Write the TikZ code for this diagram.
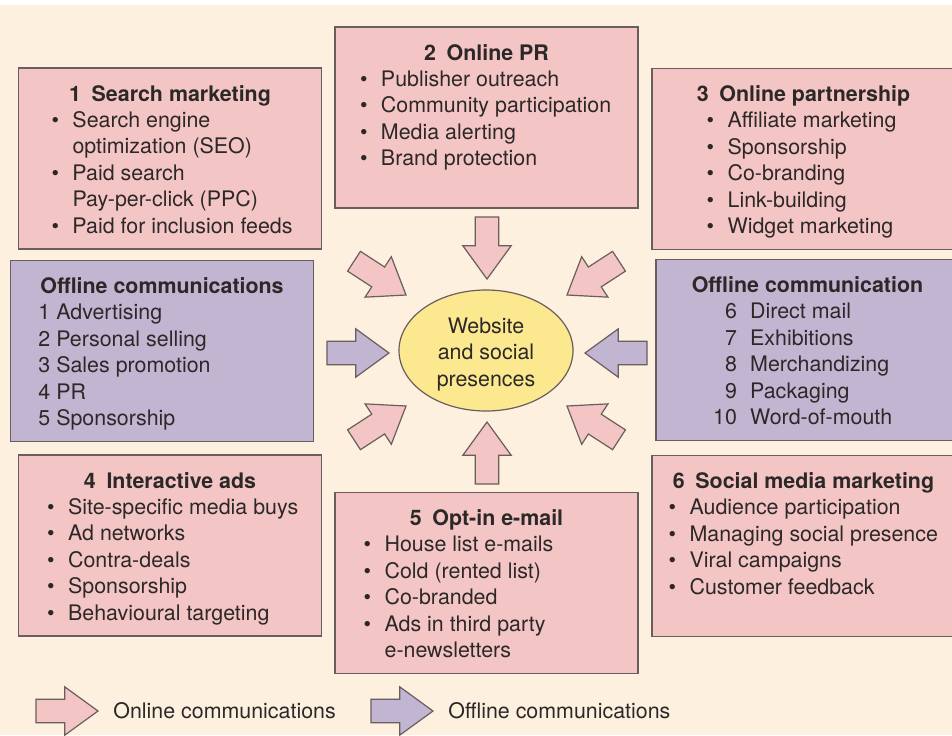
\documentclass[tikz,border=0pt]{standalone}
\usepackage{fontspec}
\setmainfont{TeX Gyre Heros}
\usetikzlibrary{shapes.arrows, shapes.geometric, positioning}
\definecolor{paper}{RGB}{253, 240, 223}
\definecolor{onpink}{RGB}{244, 197, 197}
\definecolor{offlilac}{RGB}{193, 181, 209}
\definecolor{hubyellow}{RGB}{252, 233, 143}
\definecolor{rim}{RGB}{105, 94, 94}
\definecolor{ink}{RGB}{45, 40, 40}
% box body: centred bold heading, then the list, top aligned
\newcommand{\panelbody}[2]{%
  \parbox[c][90.5pt][t]{151.5pt}{\centering\rule{0pt}{16.5pt}\textbf{#1}\par
    \raggedright #2\par}}

\begin{document}
\begin{tikzpicture}[
  x=0.5pt, y=-0.5pt,
  font=\fontsize{10.7pt}{13.2pt}\selectfont, text=ink,
  panel/.style={rectangle, draw=rim, line width=0.6pt, fill=#1,
                inner sep=0pt, outer sep=0pt},
  hub/.style={ellipse, draw=rim, line width=0.6pt, fill=hubyellow,
              minimum width=87pt, minimum height=60.5pt, inner sep=0pt,
              align=center},
  blk/.style={single arrow, draw=rim, line width=0.6pt, fill=#1,
              minimum width=0pt, minimum height=31pt, inner xsep=0pt,
              inner ysep=5.6pt, single arrow head extend=6.15pt,
              single arrow tip angle=72, outer sep=0pt, anchor=tip},
  legtext/.style={inner sep=0pt}
]
\useasboundingbox (0,0) rectangle (952,735);
\fill[white] (0,0) rectangle (952,735);
\fill[paper] (0,5) rectangle (952,735);

% centre
\node[hub] (web) at (486,350.5) {\rule{0pt}{11.7pt}Website\\and social\\presences};

% online boxes
\node[panel=onpink] (search) at (170,158.5) {\panelbody{1\enspace Search marketing}{%
  \hspace*{16.5pt}\begin{tabular}[t]{@{}p{10.5pt}@{}l@{}}
  \textbullet & Search engine\\
              & optimization (SEO)\\
  \textbullet & Paid search\\
              & Pay-per-click (PPC)\\
  \textbullet & Paid for inclusion feeds
  \end{tabular}}};
\node[panel=onpink] (pr) at (486.5,117.5) {\panelbody{2\enspace Online PR}{%
  \hspace*{12.5pt}\begin{tabular}[t]{@{}p{10.5pt}@{}l@{}}
  \textbullet & Publisher outreach\\
  \textbullet & Community participation\\
  \textbullet & Media alerting\\
  \textbullet & Brand protection
  \end{tabular}}};
\node[panel=onpink] (partner) at (803.5,159) {\panelbody{3\enspace Online partnership}{%
  \hspace*{27.3pt}\begin{tabular}[t]{@{}p{10.5pt}@{}l@{}}
  \textbullet & Affiliate marketing\\
  \textbullet & Sponsorship\\
  \textbullet & Co-branding\\
  \textbullet & Link-building\\
  \textbullet & Widget marketing
  \end{tabular}}};
\node[panel=onpink] (ads) at (170,545.5) {\panelbody{4\enspace Interactive ads}{%
  \hspace*{14.3pt}\begin{tabular}[t]{@{}p{10.5pt}@{}l@{}}
  \textbullet & Site-specific media buys\\
  \textbullet & Ad networks\\
  \textbullet & Contra-deals\\
  \textbullet & Sponsorship\\
  \textbullet & Behavioural targeting
  \end{tabular}}};
\node[panel=onpink] (optin) at (486.5,583) {\panelbody{5\enspace Opt-in e-mail}{%
  \hspace*{14.3pt}\begin{tabular}[t]{@{}p{10.5pt}@{}l@{}}
  \textbullet & House list e-mails\\
  \textbullet & Cold (rented list)\\
  \textbullet & Co-branded\\
  \textbullet & Ads in third party\\
              & e-newsletters
  \end{tabular}}};
\node[panel=onpink] (social) at (803.5,546) {\panelbody{6\enspace Social media marketing}{%
  \hspace*{8.3pt}\begin{tabular}[t]{@{}p{10.5pt}@{}l@{}}
  \textbullet & Audience participation\\
  \textbullet & Managing social presence\\
  \textbullet & Viral campaigns\\
  \textbullet & Customer feedback
  \end{tabular}}};

% offline boxes
\node[panel=offlilac] (offleft) at (162,351) {\panelbody{Offline communications}{%
  \hspace*{14pt}\begin{tabular}[t]{@{}l@{}}
  1 Advertising\\
  2 Personal selling\\
  3 Sales promotion\\
  4 PR\\
  5 Sponsorship
  \end{tabular}}};
\node[panel=offlilac] (offright) at (807.5,350) {\panelbody{Offline communication}{%
  \hspace*{28.6pt}\begin{tabular}[t]{@{}r@{\hspace{6.6pt}}l@{}}
  6 & Direct mail\\
  7 & Exhibitions\\
  8 & Merchandizing\\
  9 & Packaging\\
  10 & Word-of-mouth
  \end{tabular}}};

% arrows into the centre
\node[blk=onpink, rotate=-90]   (arPR)     at (487,279) {};
\node[blk=onpink, rotate=90]    (arMail)   at (487,422) {};
\node[blk=offlilac]             (arOffL)   at (389,353) {};
\node[blk=offlilac, rotate=180] (arOffR)   at (585,353) {};
\node[blk=onpink, rotate=-33]   (arSearch) at (406,295) {};
\node[blk=onpink, rotate=-147]  (arPart)   at (567,295) {};
\node[blk=onpink, rotate=33]    (arAds)    at (406,406) {};
\node[blk=onpink, rotate=147]   (arSocial) at (567,406) {};

% key
\node[blk=onpink]   (keyOn)  at (98,711) {};
\node[legtext, right=7.5pt of keyOn.tip]  (keyOnText)  {Online communications};
\node[blk=offlilac] (keyOff) at (433,711) {};
\node[legtext, right=7.5pt of keyOff.tip] (keyOffText) {Offline communications};
\end{tikzpicture}
\end{document}
